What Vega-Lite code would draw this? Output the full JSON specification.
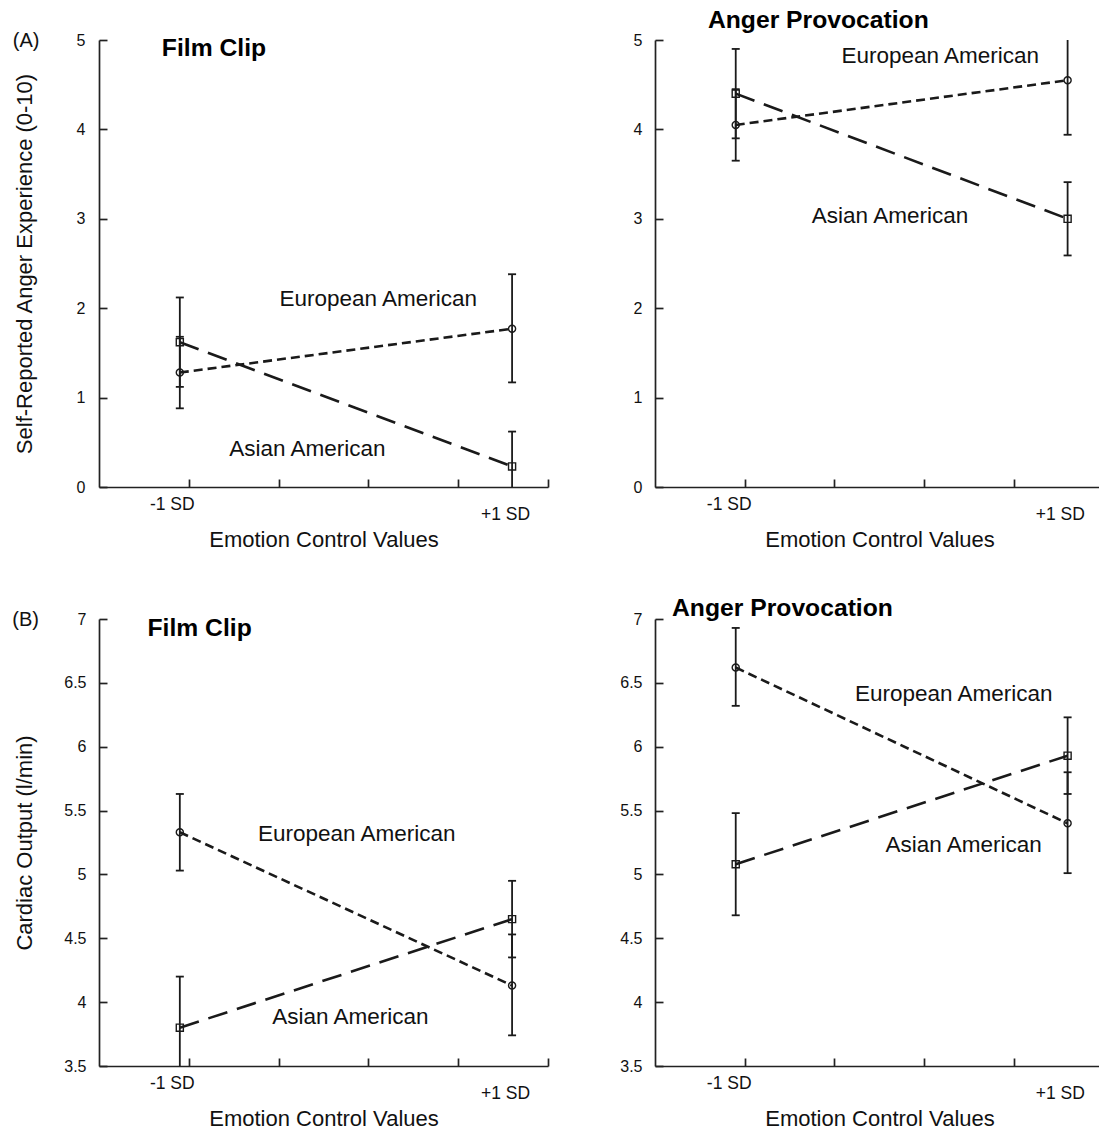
{
  "$schema": "https://vega.github.io/schema/vega-lite/v6.json",
  "background": "white",
  "padding": {"left": 12, "top": 8, "right": 0, "bottom": 0},
  "config": {
    "view": {"stroke": null},
    "font": "Liberation Sans",
    "axis": {"grid": false, "domainColor": "#222", "domainWidth": 1.7, "tickColor": "#222", "tickWidth": 1.7, "labelColor": "#111", "titleColor": "#111", "labelFont": "Liberation Sans", "titleFont": "Liberation Sans", "titleFontWeight": "normal", "labelFontSize": 16, "titleFontSize": 22}
  },
  "datasets": {
    "points": [
      {"panel": "A: Film Clip", "group": "European American", "emotion_control": "-1 SD", "position": 0.9, "mean": 1.28, "lower": 0.88, "upper": 1.68},
      {"panel": "A: Film Clip", "group": "European American", "emotion_control": "+1 SD", "position": 4.6, "mean": 1.77, "lower": 1.17, "upper": 2.38},
      {"panel": "A: Film Clip", "group": "Asian American", "emotion_control": "-1 SD", "position": 0.9, "mean": 1.62, "lower": 1.12, "upper": 2.12},
      {"panel": "A: Film Clip", "group": "Asian American", "emotion_control": "+1 SD", "position": 4.6, "mean": 0.23, "lower": -0.16, "upper": 0.62},
      {"panel": "A: Anger Provocation", "group": "European American", "emotion_control": "-1 SD", "position": 0.9, "mean": 4.05, "lower": 3.65, "upper": 4.45},
      {"panel": "A: Anger Provocation", "group": "European American", "emotion_control": "+1 SD", "position": 4.6, "mean": 4.55, "lower": 3.94, "upper": 5.16},
      {"panel": "A: Anger Provocation", "group": "Asian American", "emotion_control": "-1 SD", "position": 0.9, "mean": 4.4, "lower": 3.9, "upper": 4.9},
      {"panel": "A: Anger Provocation", "group": "Asian American", "emotion_control": "+1 SD", "position": 4.6, "mean": 3.0, "lower": 2.59, "upper": 3.41},
      {"panel": "B: Film Clip", "group": "European American", "emotion_control": "-1 SD", "position": 0.9, "mean": 5.33, "lower": 5.03, "upper": 5.63},
      {"panel": "B: Film Clip", "group": "European American", "emotion_control": "+1 SD", "position": 4.6, "mean": 4.13, "lower": 3.74, "upper": 4.53},
      {"panel": "B: Film Clip", "group": "Asian American", "emotion_control": "-1 SD", "position": 0.9, "mean": 3.8, "lower": 3.4, "upper": 4.2},
      {"panel": "B: Film Clip", "group": "Asian American", "emotion_control": "+1 SD", "position": 4.6, "mean": 4.65, "lower": 4.35, "upper": 4.95},
      {"panel": "B: Anger Provocation", "group": "European American", "emotion_control": "-1 SD", "position": 0.9, "mean": 6.62, "lower": 6.32, "upper": 6.93},
      {"panel": "B: Anger Provocation", "group": "European American", "emotion_control": "+1 SD", "position": 4.6, "mean": 5.4, "lower": 5.01, "upper": 5.8},
      {"panel": "B: Anger Provocation", "group": "Asian American", "emotion_control": "-1 SD", "position": 0.9, "mean": 5.08, "lower": 4.68, "upper": 5.48},
      {"panel": "B: Anger Provocation", "group": "Asian American", "emotion_control": "+1 SD", "position": 4.6, "mean": 5.93, "lower": 5.63, "upper": 6.23}
    ],
    "annotations": [
      {"panel": "A: Film Clip", "kind": "series", "text": "European American", "position": 3.11, "value": 2.1},
      {"panel": "A: Film Clip", "kind": "series", "text": "Asian American", "position": 2.32, "value": 0.43},
      {"panel": "A: Anger Provocation", "kind": "series", "text": "European American", "position": 3.18, "value": 4.82},
      {"panel": "A: Anger Provocation", "kind": "series", "text": "Asian American", "position": 2.62, "value": 3.03},
      {"panel": "B: Film Clip", "kind": "series", "text": "European American", "position": 2.87, "value": 5.32},
      {"panel": "B: Film Clip", "kind": "series", "text": "Asian American", "position": 2.8, "value": 3.88},
      {"panel": "B: Anger Provocation", "kind": "series", "text": "European American", "position": 3.33, "value": 6.41},
      {"panel": "B: Anger Provocation", "kind": "series", "text": "Asian American", "position": 3.44, "value": 5.23},
      {"panel": "A: Film Clip", "kind": "title", "text": "Film Clip", "position": 0.7, "value": 4.82},
      {"panel": "A: Anger Provocation", "kind": "title", "text": "Anger Provocation", "position": 0.59, "value": 5.13},
      {"panel": "B: Film Clip", "kind": "title", "text": "Film Clip", "position": 0.54, "value": 6.87},
      {"panel": "B: Anger Provocation", "kind": "title", "text": "Anger Provocation", "position": 0.19, "value": 7.02},
      {"panel": "A: Film Clip", "kind": "letter", "text": "(A)", "position": -0.96, "value": 4.99},
      {"panel": "B: Film Clip", "kind": "letter", "text": "(B)", "position": -0.965, "value": 6.99}
    ]
  },
  "columns": 2,
  "spacing": {"row": 132, "column": 107},
  "bounds": "flush",
  "concat": [
    {
      "width": 449, "height": 447,
      "layer": [
        {
          "data": {"name": "points"},
          "transform": [{"filter": "datum.panel == 'A: Film Clip'"}],
          "mark": {"type": "line", "strokeWidth": 2.6, "color": "#1a1a1a"},
          "encoding": {
            "x": {"field": "position", "type": "quantitative", "title": "Emotion Control Values", "scale": {"domain": [0, 5], "nice": false, "zero": false},
              "axis": {"values": [1, 2, 3, 4, 5], "tickSize": -8, "labelExpr": "datum.value == 1 ? '-1 SD' : datum.value == 5 ? '+1 SD' : ''", "labelOffset": {"condition": {"test": "datum.value == 1", "value": -17}, "value": -43}, "labelPadding": {"condition": {"test": "datum.value == 1", "value": 16}, "value": 26}, "labelFontSize": 17.5, "labelAlign": "center", "labelBaseline": "top", "labelOverlap": false, "labelFlush": false, "titleX": 224.5, "titleY": 52, "titleBaseline": "middle", "titleAlign": "center"}},
            "y": {"field": "mean", "type": "quantitative", "title": "Self-Reported Anger Experience (0-10)", "scale": {"domain": [0, 5], "nice": false, "zero": false},
              "axis": {"values": [0, 1, 2, 3, 4, 5], "tickSize": -8, "labelPadding": 22, "labelFontSize": 16, "format": "~g", "labelOverlap": false, "titleX": -74.5, "titleY": 223.5, "titleBaseline": "middle", "titleAlign": "center", "titleAngle": 270}},
            "detail": {"field": "group"},
            "strokeDash": {"field": "group", "type": "nominal", "scale": {"domain": ["European American", "Asian American"], "range": [[9, 5], [20, 10]]}, "legend": null}
          }
        },
        {
          "data": {"name": "points"},
          "transform": [{"filter": "datum.panel == 'A: Film Clip'"}],
          "mark": {"type": "rule", "strokeWidth": 1.8, "color": "#1a1a1a", "clip": true},
          "encoding": {
            "x": {"field": "position", "type": "quantitative", "title": "Emotion Control Values"},
            "y": {"field": "lower", "type": "quantitative", "title": "Self-Reported Anger Experience (0-10)"},
            "y2": {"field": "upper"}
          }
        },
        {
          "data": {"name": "points"},
          "transform": [{"filter": "datum.panel == 'A: Film Clip'"}],
          "mark": {"type": "tick", "orient": "horizontal", "size": 8, "thickness": 1.8, "color": "#1a1a1a", "clip": true, "opacity": 1},
          "encoding": {
            "x": {"field": "position", "type": "quantitative", "title": "Emotion Control Values"},
            "y": {"field": "lower", "type": "quantitative", "title": "Self-Reported Anger Experience (0-10)"}
          }
        },
        {
          "data": {"name": "points"},
          "transform": [{"filter": "datum.panel == 'A: Film Clip'"}],
          "mark": {"type": "tick", "orient": "horizontal", "size": 8, "thickness": 1.8, "color": "#1a1a1a", "clip": true, "opacity": 1},
          "encoding": {
            "x": {"field": "position", "type": "quantitative", "title": "Emotion Control Values"},
            "y": {"field": "upper", "type": "quantitative", "title": "Self-Reported Anger Experience (0-10)"}
          }
        },
        {
          "data": {"name": "points"},
          "transform": [{"filter": "datum.panel == 'A: Film Clip'"}],
          "mark": {"type": "point", "filled": false, "size": 50, "strokeWidth": 1.4, "color": "#1a1a1a", "opacity": 1},
          "encoding": {
            "x": {"field": "position", "type": "quantitative", "title": "Emotion Control Values"},
            "y": {"field": "mean", "type": "quantitative", "title": "Self-Reported Anger Experience (0-10)"},
            "shape": {"field": "group", "type": "nominal", "scale": {"domain": ["European American", "Asian American"], "range": ["circle", "square"]}, "legend": null}
          }
        },
        {
          "data": {"name": "annotations"},
          "transform": [{"filter": "datum.panel == 'A: Film Clip' && datum.kind == 'series'"}],
          "mark": {"type": "text", "fontSize": 22.5, "align": "center", "baseline": "middle", "color": "#111"},
          "encoding": {
            "x": {"field": "position", "type": "quantitative", "title": "Emotion Control Values"},
            "y": {"field": "value", "type": "quantitative", "title": "Self-Reported Anger Experience (0-10)"},
            "text": {"field": "text"}
          }
        },
        {
          "data": {"name": "annotations"},
          "transform": [{"filter": "datum.panel == 'A: Film Clip' && datum.kind == 'title'"}],
          "mark": {"type": "text", "fontSize": 24.7, "fontWeight": "bold", "align": "left", "baseline": "alphabetic", "color": "#000"},
          "encoding": {
            "x": {"field": "position", "type": "quantitative", "title": "Emotion Control Values"},
            "y": {"field": "value", "type": "quantitative", "title": "Self-Reported Anger Experience (0-10)"},
            "text": {"field": "text"}
          }
        },
        {
          "data": {"name": "annotations"},
          "transform": [{"filter": "datum.panel == 'A: Film Clip' && datum.kind == 'letter'"}],
          "mark": {"type": "text", "fontSize": 20, "align": "left", "baseline": "middle", "color": "#111"},
          "encoding": {
            "x": {"field": "position", "type": "quantitative", "title": "Emotion Control Values"},
            "y": {"field": "value", "type": "quantitative", "title": "Self-Reported Anger Experience (0-10)"},
            "text": {"field": "text"}
          }
        }
      ]
    },
    {
      "width": 444, "height": 447,
      "layer": [
        {
          "data": {"name": "points"},
          "transform": [{"filter": "datum.panel == 'A: Anger Provocation'"}],
          "mark": {"type": "line", "strokeWidth": 2.6, "color": "#1a1a1a"},
          "encoding": {
            "x": {"field": "position", "type": "quantitative", "title": "Emotion Control Values", "scale": {"domain": [0, 4.95], "nice": false, "zero": false},
              "axis": {"values": [1, 2, 3, 4], "tickSize": -8, "labelExpr": "datum.value == 1 ? '-1 SD' : datum.value == 4 ? '+1 SD' : ''", "labelOffset": {"condition": {"test": "datum.value == 1", "value": -16}, "value": 46}, "labelPadding": {"condition": {"test": "datum.value == 1", "value": 16}, "value": 26}, "labelFontSize": 17.5, "labelAlign": "center", "labelBaseline": "top", "labelOverlap": false, "labelFlush": false, "titleX": 224.5, "titleY": 52, "titleBaseline": "middle", "titleAlign": "center"}},
            "y": {"field": "mean", "type": "quantitative", "title": null, "scale": {"domain": [0, 5], "nice": false, "zero": false},
              "axis": {"values": [0, 1, 2, 3, 4, 5], "tickSize": -8, "labelPadding": 21, "labelFontSize": 16, "format": "~g", "labelOverlap": false}},
            "detail": {"field": "group"},
            "strokeDash": {"field": "group", "type": "nominal", "scale": {"domain": ["European American", "Asian American"], "range": [[9, 5], [20, 10]]}, "legend": null}
          }
        },
        {
          "data": {"name": "points"},
          "transform": [{"filter": "datum.panel == 'A: Anger Provocation'"}],
          "mark": {"type": "rule", "strokeWidth": 1.8, "color": "#1a1a1a", "clip": true},
          "encoding": {
            "x": {"field": "position", "type": "quantitative", "title": "Emotion Control Values"},
            "y": {"field": "lower", "type": "quantitative", "title": null},
            "y2": {"field": "upper"}
          }
        },
        {
          "data": {"name": "points"},
          "transform": [{"filter": "datum.panel == 'A: Anger Provocation'"}],
          "mark": {"type": "tick", "orient": "horizontal", "size": 8, "thickness": 1.8, "color": "#1a1a1a", "clip": true, "opacity": 1},
          "encoding": {
            "x": {"field": "position", "type": "quantitative", "title": "Emotion Control Values"},
            "y": {"field": "lower", "type": "quantitative", "title": null}
          }
        },
        {
          "data": {"name": "points"},
          "transform": [{"filter": "datum.panel == 'A: Anger Provocation'"}],
          "mark": {"type": "tick", "orient": "horizontal", "size": 8, "thickness": 1.8, "color": "#1a1a1a", "clip": true, "opacity": 1},
          "encoding": {
            "x": {"field": "position", "type": "quantitative", "title": "Emotion Control Values"},
            "y": {"field": "upper", "type": "quantitative", "title": null}
          }
        },
        {
          "data": {"name": "points"},
          "transform": [{"filter": "datum.panel == 'A: Anger Provocation'"}],
          "mark": {"type": "point", "filled": false, "size": 50, "strokeWidth": 1.4, "color": "#1a1a1a", "opacity": 1},
          "encoding": {
            "x": {"field": "position", "type": "quantitative", "title": "Emotion Control Values"},
            "y": {"field": "mean", "type": "quantitative", "title": null},
            "shape": {"field": "group", "type": "nominal", "scale": {"domain": ["European American", "Asian American"], "range": ["circle", "square"]}, "legend": null}
          }
        },
        {
          "data": {"name": "annotations"},
          "transform": [{"filter": "datum.panel == 'A: Anger Provocation' && datum.kind == 'series'"}],
          "mark": {"type": "text", "fontSize": 22.5, "align": "center", "baseline": "middle", "color": "#111"},
          "encoding": {
            "x": {"field": "position", "type": "quantitative", "title": "Emotion Control Values"},
            "y": {"field": "value", "type": "quantitative", "title": null},
            "text": {"field": "text"}
          }
        },
        {
          "data": {"name": "annotations"},
          "transform": [{"filter": "datum.panel == 'A: Anger Provocation' && datum.kind == 'title'"}],
          "mark": {"type": "text", "fontSize": 24.7, "fontWeight": "bold", "align": "left", "baseline": "alphabetic", "color": "#000"},
          "encoding": {
            "x": {"field": "position", "type": "quantitative", "title": "Emotion Control Values"},
            "y": {"field": "value", "type": "quantitative", "title": null},
            "text": {"field": "text"}
          }
        }
      ]
    },
    {
      "width": 449, "height": 447,
      "layer": [
        {
          "data": {"name": "points"},
          "transform": [{"filter": "datum.panel == 'B: Film Clip'"}],
          "mark": {"type": "line", "strokeWidth": 2.6, "color": "#1a1a1a"},
          "encoding": {
            "x": {"field": "position", "type": "quantitative", "title": "Emotion Control Values", "scale": {"domain": [0, 5], "nice": false, "zero": false},
              "axis": {"values": [1, 2, 3, 4, 5], "tickSize": -8, "labelExpr": "datum.value == 1 ? '-1 SD' : datum.value == 5 ? '+1 SD' : ''", "labelOffset": {"condition": {"test": "datum.value == 1", "value": -17}, "value": -43}, "labelPadding": {"condition": {"test": "datum.value == 1", "value": 16}, "value": 26}, "labelFontSize": 17.5, "labelAlign": "center", "labelBaseline": "top", "labelOverlap": false, "labelFlush": false, "titleX": 224.5, "titleY": 52, "titleBaseline": "middle", "titleAlign": "center"}},
            "y": {"field": "mean", "type": "quantitative", "title": "Cardiac Output (l/min)", "scale": {"domain": [3.5, 7], "nice": false, "zero": false},
              "axis": {"values": [3.5, 4, 4.5, 5, 5.5, 6, 6.5, 7], "tickSize": -8, "labelPadding": 21, "labelFontSize": 16, "format": "~g", "labelOverlap": false, "titleX": -74.5, "titleY": 223.5, "titleBaseline": "middle", "titleAlign": "center", "titleAngle": 270}},
            "detail": {"field": "group"},
            "strokeDash": {"field": "group", "type": "nominal", "scale": {"domain": ["European American", "Asian American"], "range": [[9, 5], [20, 10]]}, "legend": null}
          }
        },
        {
          "data": {"name": "points"},
          "transform": [{"filter": "datum.panel == 'B: Film Clip'"}],
          "mark": {"type": "rule", "strokeWidth": 1.8, "color": "#1a1a1a", "clip": true},
          "encoding": {
            "x": {"field": "position", "type": "quantitative", "title": "Emotion Control Values"},
            "y": {"field": "lower", "type": "quantitative", "title": "Cardiac Output (l/min)"},
            "y2": {"field": "upper"}
          }
        },
        {
          "data": {"name": "points"},
          "transform": [{"filter": "datum.panel == 'B: Film Clip'"}],
          "mark": {"type": "tick", "orient": "horizontal", "size": 8, "thickness": 1.8, "color": "#1a1a1a", "clip": true, "opacity": 1},
          "encoding": {
            "x": {"field": "position", "type": "quantitative", "title": "Emotion Control Values"},
            "y": {"field": "lower", "type": "quantitative", "title": "Cardiac Output (l/min)"}
          }
        },
        {
          "data": {"name": "points"},
          "transform": [{"filter": "datum.panel == 'B: Film Clip'"}],
          "mark": {"type": "tick", "orient": "horizontal", "size": 8, "thickness": 1.8, "color": "#1a1a1a", "clip": true, "opacity": 1},
          "encoding": {
            "x": {"field": "position", "type": "quantitative", "title": "Emotion Control Values"},
            "y": {"field": "upper", "type": "quantitative", "title": "Cardiac Output (l/min)"}
          }
        },
        {
          "data": {"name": "points"},
          "transform": [{"filter": "datum.panel == 'B: Film Clip'"}],
          "mark": {"type": "point", "filled": false, "size": 50, "strokeWidth": 1.4, "color": "#1a1a1a", "opacity": 1},
          "encoding": {
            "x": {"field": "position", "type": "quantitative", "title": "Emotion Control Values"},
            "y": {"field": "mean", "type": "quantitative", "title": "Cardiac Output (l/min)"},
            "shape": {"field": "group", "type": "nominal", "scale": {"domain": ["European American", "Asian American"], "range": ["circle", "square"]}, "legend": null}
          }
        },
        {
          "data": {"name": "annotations"},
          "transform": [{"filter": "datum.panel == 'B: Film Clip' && datum.kind == 'series'"}],
          "mark": {"type": "text", "fontSize": 22.5, "align": "center", "baseline": "middle", "color": "#111"},
          "encoding": {
            "x": {"field": "position", "type": "quantitative", "title": "Emotion Control Values"},
            "y": {"field": "value", "type": "quantitative", "title": "Cardiac Output (l/min)"},
            "text": {"field": "text"}
          }
        },
        {
          "data": {"name": "annotations"},
          "transform": [{"filter": "datum.panel == 'B: Film Clip' && datum.kind == 'title'"}],
          "mark": {"type": "text", "fontSize": 24.7, "fontWeight": "bold", "align": "left", "baseline": "alphabetic", "color": "#000"},
          "encoding": {
            "x": {"field": "position", "type": "quantitative", "title": "Emotion Control Values"},
            "y": {"field": "value", "type": "quantitative", "title": "Cardiac Output (l/min)"},
            "text": {"field": "text"}
          }
        },
        {
          "data": {"name": "annotations"},
          "transform": [{"filter": "datum.panel == 'B: Film Clip' && datum.kind == 'letter'"}],
          "mark": {"type": "text", "fontSize": 20, "align": "left", "baseline": "middle", "color": "#111"},
          "encoding": {
            "x": {"field": "position", "type": "quantitative", "title": "Emotion Control Values"},
            "y": {"field": "value", "type": "quantitative", "title": "Cardiac Output (l/min)"},
            "text": {"field": "text"}
          }
        }
      ]
    },
    {
      "width": 444, "height": 447,
      "layer": [
        {
          "data": {"name": "points"},
          "transform": [{"filter": "datum.panel == 'B: Anger Provocation'"}],
          "mark": {"type": "line", "strokeWidth": 2.6, "color": "#1a1a1a"},
          "encoding": {
            "x": {"field": "position", "type": "quantitative", "title": "Emotion Control Values", "scale": {"domain": [0, 4.95], "nice": false, "zero": false},
              "axis": {"values": [1, 2, 3, 4], "tickSize": -8, "labelExpr": "datum.value == 1 ? '-1 SD' : datum.value == 4 ? '+1 SD' : ''", "labelOffset": {"condition": {"test": "datum.value == 1", "value": -16}, "value": 46}, "labelPadding": {"condition": {"test": "datum.value == 1", "value": 16}, "value": 26}, "labelFontSize": 17.5, "labelAlign": "center", "labelBaseline": "top", "labelOverlap": false, "labelFlush": false, "titleX": 224.5, "titleY": 52, "titleBaseline": "middle", "titleAlign": "center"}},
            "y": {"field": "mean", "type": "quantitative", "title": null, "scale": {"domain": [3.5, 7], "nice": false, "zero": false},
              "axis": {"values": [3.5, 4, 4.5, 5, 5.5, 6, 6.5, 7], "tickSize": -8, "labelPadding": 21, "labelFontSize": 16, "format": "~g", "labelOverlap": false}},
            "detail": {"field": "group"},
            "strokeDash": {"field": "group", "type": "nominal", "scale": {"domain": ["European American", "Asian American"], "range": [[9, 5], [20, 10]]}, "legend": null}
          }
        },
        {
          "data": {"name": "points"},
          "transform": [{"filter": "datum.panel == 'B: Anger Provocation'"}],
          "mark": {"type": "rule", "strokeWidth": 1.8, "color": "#1a1a1a", "clip": true},
          "encoding": {
            "x": {"field": "position", "type": "quantitative", "title": "Emotion Control Values"},
            "y": {"field": "lower", "type": "quantitative", "title": null},
            "y2": {"field": "upper"}
          }
        },
        {
          "data": {"name": "points"},
          "transform": [{"filter": "datum.panel == 'B: Anger Provocation'"}],
          "mark": {"type": "tick", "orient": "horizontal", "size": 8, "thickness": 1.8, "color": "#1a1a1a", "clip": true, "opacity": 1},
          "encoding": {
            "x": {"field": "position", "type": "quantitative", "title": "Emotion Control Values"},
            "y": {"field": "lower", "type": "quantitative", "title": null}
          }
        },
        {
          "data": {"name": "points"},
          "transform": [{"filter": "datum.panel == 'B: Anger Provocation'"}],
          "mark": {"type": "tick", "orient": "horizontal", "size": 8, "thickness": 1.8, "color": "#1a1a1a", "clip": true, "opacity": 1},
          "encoding": {
            "x": {"field": "position", "type": "quantitative", "title": "Emotion Control Values"},
            "y": {"field": "upper", "type": "quantitative", "title": null}
          }
        },
        {
          "data": {"name": "points"},
          "transform": [{"filter": "datum.panel == 'B: Anger Provocation'"}],
          "mark": {"type": "point", "filled": false, "size": 50, "strokeWidth": 1.4, "color": "#1a1a1a", "opacity": 1},
          "encoding": {
            "x": {"field": "position", "type": "quantitative", "title": "Emotion Control Values"},
            "y": {"field": "mean", "type": "quantitative", "title": null},
            "shape": {"field": "group", "type": "nominal", "scale": {"domain": ["European American", "Asian American"], "range": ["circle", "square"]}, "legend": null}
          }
        },
        {
          "data": {"name": "annotations"},
          "transform": [{"filter": "datum.panel == 'B: Anger Provocation' && datum.kind == 'series'"}],
          "mark": {"type": "text", "fontSize": 22.5, "align": "center", "baseline": "middle", "color": "#111"},
          "encoding": {
            "x": {"field": "position", "type": "quantitative", "title": "Emotion Control Values"},
            "y": {"field": "value", "type": "quantitative", "title": null},
            "text": {"field": "text"}
          }
        },
        {
          "data": {"name": "annotations"},
          "transform": [{"filter": "datum.panel == 'B: Anger Provocation' && datum.kind == 'title'"}],
          "mark": {"type": "text", "fontSize": 24.7, "fontWeight": "bold", "align": "left", "baseline": "alphabetic", "color": "#000"},
          "encoding": {
            "x": {"field": "position", "type": "quantitative", "title": "Emotion Control Values"},
            "y": {"field": "value", "type": "quantitative", "title": null},
            "text": {"field": "text"}
          }
        }
      ]
    }
  ]
}
